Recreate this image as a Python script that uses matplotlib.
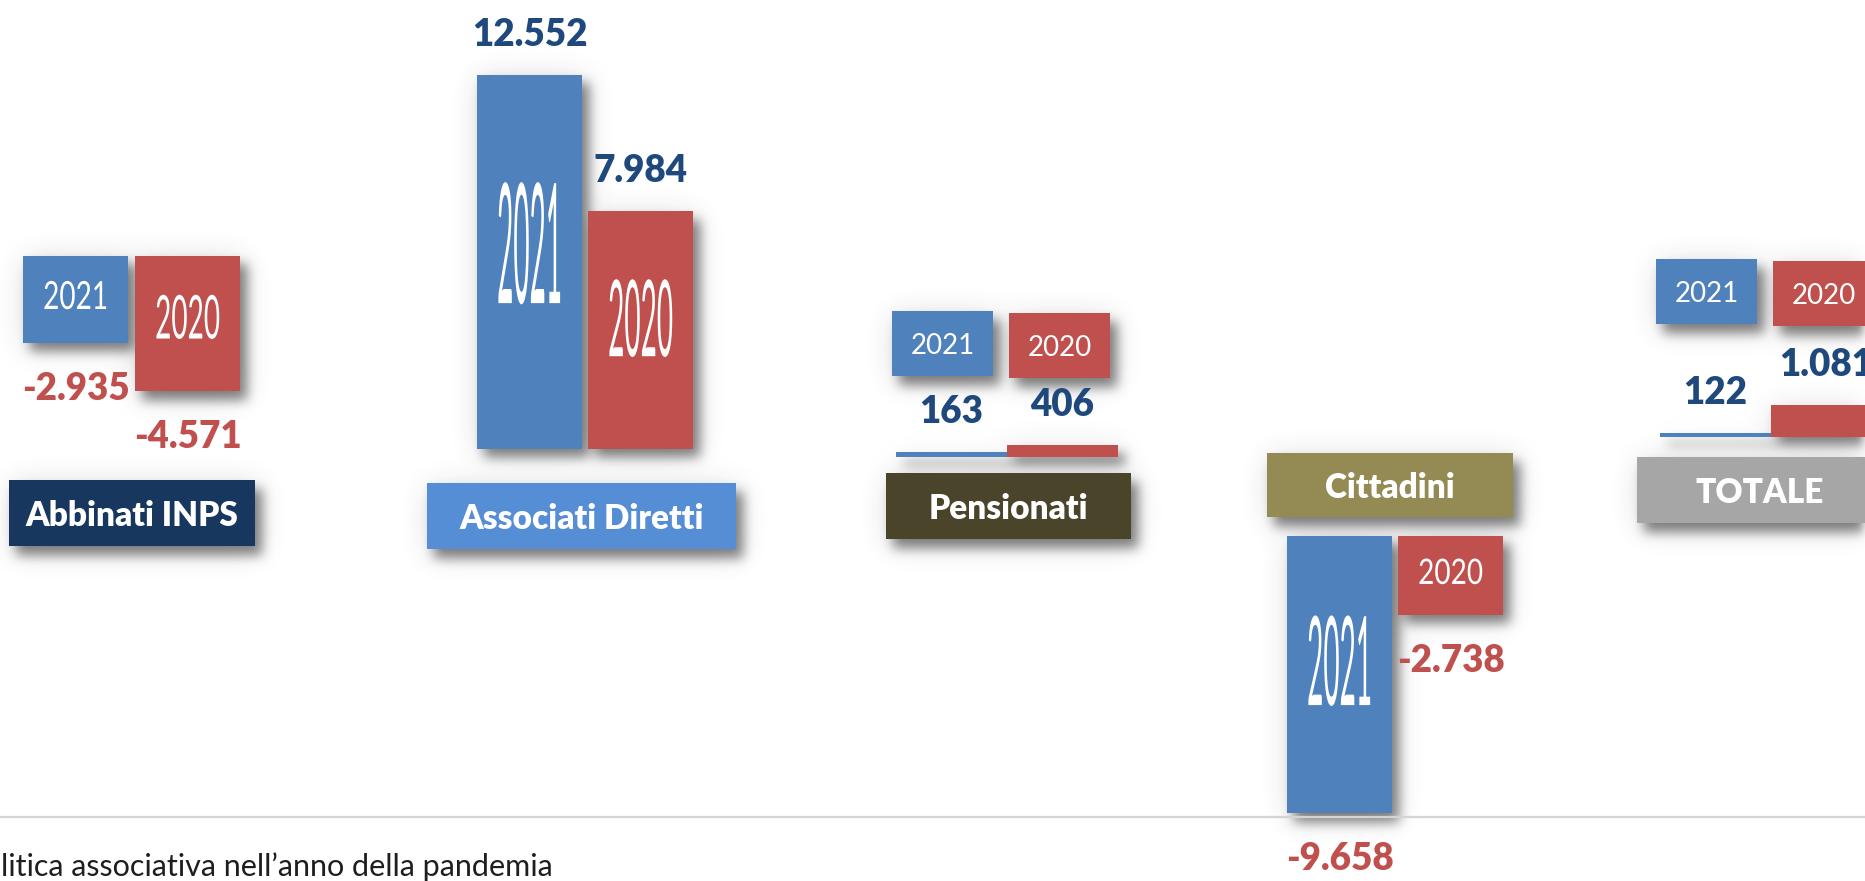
import numpy as np
import matplotlib
matplotlib.use("Agg")
import matplotlib.pyplot as plt
from matplotlib.patches import Rectangle
from matplotlib.patheffects import AbstractPathEffect
from matplotlib.transforms import Affine2D

W, H, DPI = 1865, 881, 100

# --- data -------------------------------------------------------------------
categories = ["Abbinati INPS", "Associati Diretti", "Pensionati", "Cittadini", "TOTALE"]
years = ["2021", "2020"]
values_2021 = [-2935, 12552, 163, -9658, 122]
values_2020 = [-4571, 7984, 406, -2738, 1081]

# --- layout (pixels, origin top-left) ----------------------------------------
GROUP_LEFT = [23, 477, 896, 1287, 1660]
BAR_W = [105, 105, 111, 105, 111]
BAR_GAP = [7, 6, 0, 6, 0]
ZERO_Y = [256, 449, 457, 536, 437]          # each mini chart has its own baseline
PX_PER_UNIT = [0.0296, 0.0298, 0.0296, 0.0287, 0.0296]
CAT_BOX = [(9, 480, 255, 546), (427, 483, 736, 549), (886, 473, 1131, 539),
           (1267, 453, 1513, 517), (1637, 457, 1883, 523)]
CAT_COLOR = ["#17375e", "#558ed5", "#4a452a", "#948a54", "#a6a6a6"]
CHIP_TOP = {2: (311, 313), 4: (259, 261)}   # year chips for groups with thin bars
CHIP_W, CHIP_H, CHIP_GAP = 101, 65, 16
LINE_Y = 817

BLUE, RED = "#4f81bd", "#c0504d"
POS_TXT, NEG_TXT = "#1f497d", "#c0504d"
LABEL_OFF = 43

plt.rcParams["font.family"] = ["Lato", "DejaVu Sans"]


class Stretch(AbstractPathEffect):
    """Scale the glyphs of a text around its anchor (Excel-style squeezed text)."""

    def __init__(self, text, sx=1.0, sy=1.0):
        super().__init__()
        self.text, self.sx, self.sy = text, sx, sy

    def draw_path(self, renderer, gc, tpath, affine, rgbFace=None):
        x, y = self.text.get_transform().transform(self.text.get_position())
        t = affine + Affine2D().translate(-x, -y).scale(self.sx, self.sy).translate(x, y)
        renderer.draw_path(gc, tpath, t, rgbFace)


def blur1d(a, r, axis):
    a = np.moveaxis(a, axis, -1)
    p = np.pad(a, [(0, 0)] * (a.ndim - 1) + [(r + 1, r)])
    c = np.cumsum(p, axis=-1)
    out = (c[..., 2 * r + 1:] - c[..., :-(2 * r + 1)]) / (2 * r + 1)
    return np.moveaxis(out, -1, axis)


def box_blur(a, r, passes=3):
    for _ in range(passes):
        a = blur1d(blur1d(a, r, 0), r, 1)
    return a


def it_fmt(v):
    return f"{v:,}".replace(",", ".")


fig = plt.figure(figsize=(W / DPI + 1e-5, H / DPI + 1e-5), dpi=DPI)
fig.patch.set_facecolor("white")

# overlay axes in pixel coordinates for boxes and labels
bg = fig.add_axes([0, 0, 1, 1])
bg.set_xlim(0, W)
bg.set_ylim(H, 0)
bg.axis("off")
bg.set_zorder(2)
bg.patch.set_alpha(0)

shadow_rects = []
year_fs = 20
em_px = year_fs * DPI / 72

for i, cat in enumerate(categories):
    bw, gap = BAR_W[i], BAR_GAP[i]
    unit = bw + gap
    ax = fig.add_axes([GROUP_LEFT[i] / W, 0, (2 * bw + gap) / W, 1])
    ax.set_xlim(-bw / 2 / unit, 1 + bw / 2 / unit)
    s, z = PX_PER_UNIT[i], ZERO_Y[i]
    ax.set_ylim(-(H - z) / s, z / s)
    ax.axis("off")
    ax.patch.set_alpha(0)
    vals = [values_2021[i], values_2020[i]]
    bars = ax.bar([0, 1], vals, width=bw / unit, color=[BLUE, RED], linewidth=0)

    for j, (p, v) in enumerate(zip(bars.patches, vals)):
        bb = p.get_window_extent()
        top, bot = H - bb.y1, H - bb.y0
        cx = (bb.x0 + bb.x1) / 2
        shadow_rects.append((bb.x0, top, bb.x1, bot))
        # value label
        ty = top - LABEL_OFF if v >= 0 else bot + LABEL_OFF
        bg.text(cx, ty, it_fmt(v), color=POS_TXT if v >= 0 else NEG_TXT,
                fontsize=26.5, fontweight=800, ha="center", va="center_baseline")
        # year label inside the bar when there is room
        hb = bot - top
        if hb > 40:
            th = 0.32 * hb
            base = top + 0.45 * hb + th / 2
            t = bg.text(cx, base, years[j], color="white", fontsize=year_fs,
                        ha="center", va="baseline")
            t.set_path_effects([Stretch(t, 65 / (4 * 0.58 * em_px), th / (0.7165 * em_px))])

    # year chips above thin bars
    if i in CHIP_TOP:
        x0 = GROUP_LEFT[i] - 4
        for j, (yr, col) in enumerate(zip(years, [BLUE, RED])):
            cx0 = x0 + j * (CHIP_W + CHIP_GAP)
            cy0 = CHIP_TOP[i][j]
            bg.add_patch(Rectangle((cx0, cy0), CHIP_W, CHIP_H, color=col, lw=0))
            bg.text(cx0 + CHIP_W / 2, cy0 + CHIP_H / 2, yr, color="white",
                    fontsize=year_fs, ha="center", va="center_baseline")
            shadow_rects.append((cx0, cy0, cx0 + CHIP_W, cy0 + CHIP_H))

    # category box
    x0, y0, x1, y1 = CAT_BOX[i]
    bg.add_patch(Rectangle((x0, y0), x1 - x0, y1 - y0, color=CAT_COLOR[i], lw=0))
    bg.text((x0 + x1) / 2, (y0 + y1) / 2, cat, color="white", fontsize=24,
            fontweight=800, ha="center", va="center_baseline")
    shadow_rects.append((x0, y0, x1, y1))

# baseline rule and caption
bg.plot([0, W], [LINE_Y, LINE_Y], color="#d4d4d4", lw=1.6, solid_capstyle="butt")
bg.text(1, 876, "litica associativa nell\u2019anno della pandemia", color="#1e1e1e",
        fontsize=22, ha="left", va="baseline")

# soft drop shadows behind every box and bar
def rect_mask(dx, dy):
    m = np.zeros((H, W))
    for x0, y0, x1, y1 in shadow_rects:
        r0, r1 = int(max(0, y0 + dy)), int(min(H, y1 + dy))
        c0, c1 = int(max(0, x0 + dx)), int(min(W, x1 + dx))
        if r1 > r0 and c1 > c0:
            m[r0:r1, c0:c1] = 1.0
    return m

near = box_blur(rect_mask(7, 9), 5) * 0.55
halo = box_blur(rect_mask(3, 5), 14) * 0.18
alpha = 1 - (1 - near) * (1 - halo)
img = np.zeros((H, W, 4))
img[..., :3] = 0.15
img[..., 3] = np.clip(alpha, 0, 1)
fig.figimage(img, xo=0, yo=0, origin="upper", zorder=-1)

fig.savefig("out.png", dpi=DPI, facecolor="white")
